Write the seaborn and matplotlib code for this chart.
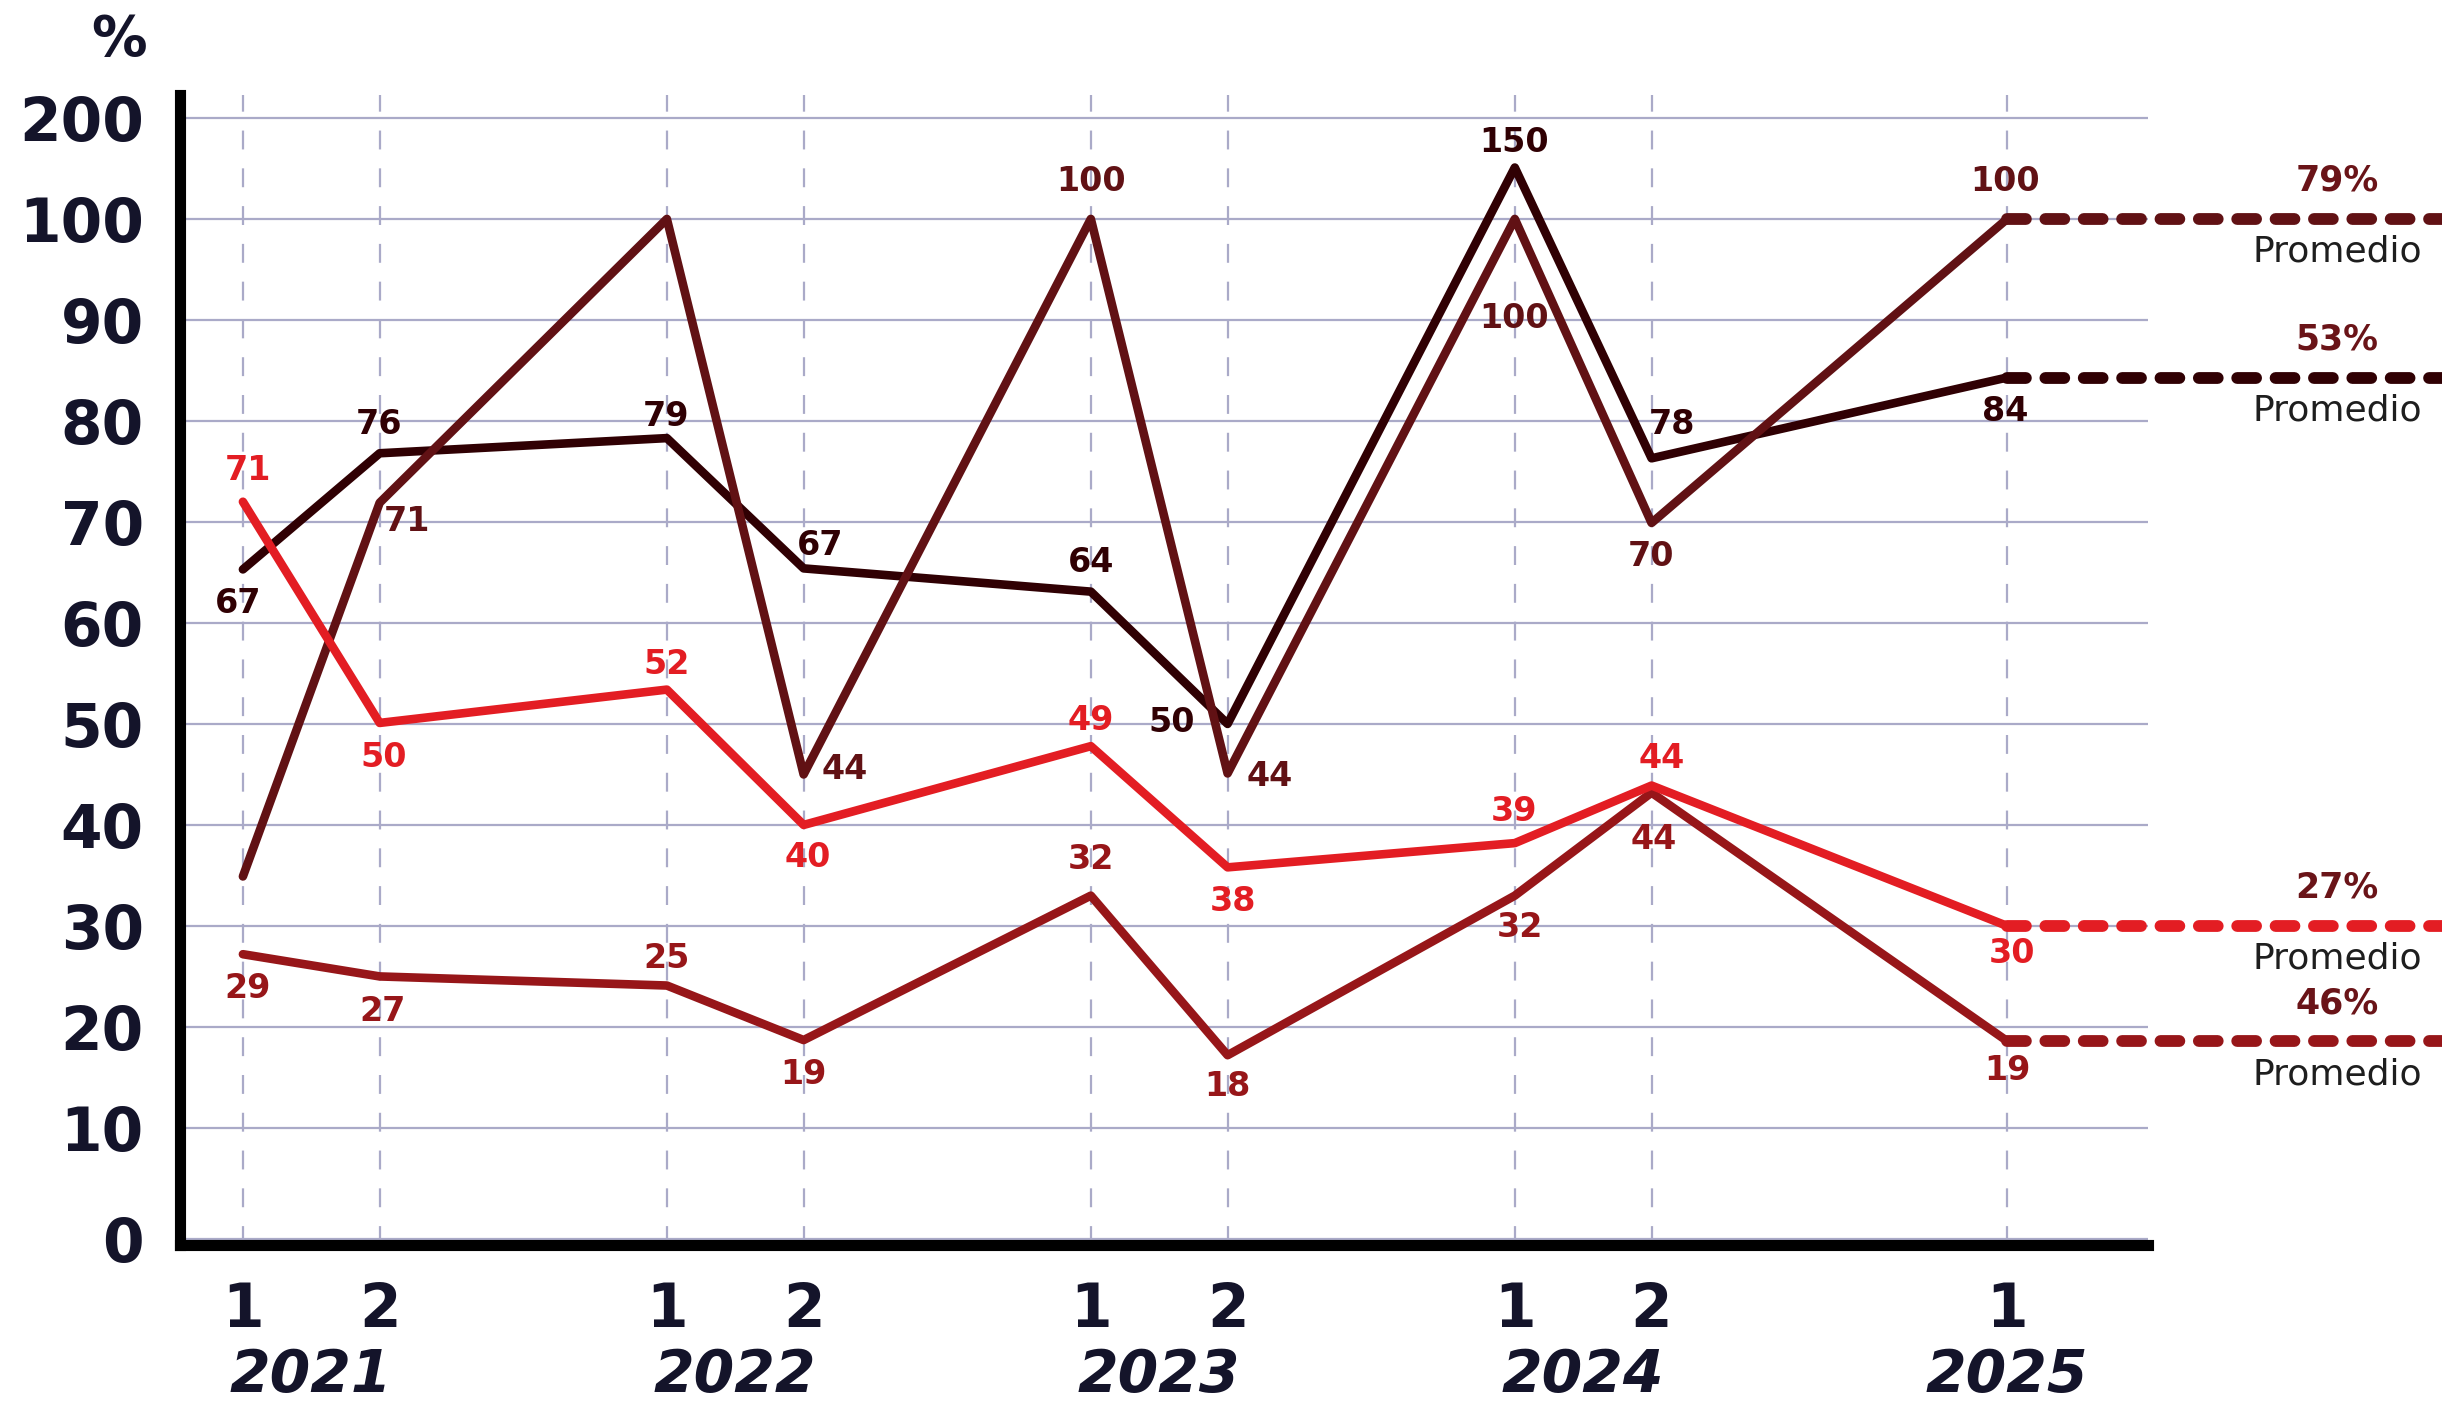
import numpy as np
import pandas as pd
import matplotlib.pyplot as plt
import seaborn as sns

# DATA
x_pos = [0, 1, 3.1, 4.1, 6.2, 7.2, 9.3, 10.3, 12.9]
semesters = ['1', '2', '1', '2', '1', '2', '1', '2', '1']
point_year = ['2021', '2021', '2022', '2022', '2023', '2023', '2024', '2024', '2025']

red_vals = [72.0, 50.1, 53.4, 40.0, 47.8, 35.8, 38.2, 43.9, 30.0]
red_labels = ['71', '50', '52', '40', '49', '38', '39', '44', '30']

darkred_vals = [27.2, 25.0, 24.1, 18.7, 33.0, 17.2, 33.0, 43.2, 18.6]
darkred_labels = ['29', '27', '25', '19', '32', '18', '32', '44', '19']

maroon_vals = [34.9, 71.9, 100, 45.0, 100, 45.1, 100, 69.9, 100]
maroon_labels = ['', '71', '', '44', '100', '44', '100', '70', '100']

black_vals = [65.3, 76.8, 78.3, 65.4, 63.1, 50.0, 150.9, 76.3, 84.3]
black_labels = ['67', '76', '79', '67', '64', '50', '150', '78', '84']

avg_labels = {'maroon': '79%', 'black': '53%', 'red': '27%', 'darkred': '46%'}

y_ticks = [0, 10, 20, 30, 40, 50, 60, 70, 80, 90, 100, 200]

# STYLE
colors = {'red': '#e31d23', 'darkred': '#971619', 'maroon': '#611114', 'black': '#300003'}
avg_color = '#6a1418'
grid_color = '#aaaac8'
ink = '#14142a'

# label offsets in pixels (dx, dy) from each point
offsets = {
    'red': [(5, 31), (4, -35), (0, 25), (4, -33), (0, 26), (5, -34), (-1, 32), (10, 27), (5, -28)],
    'darkred': [(5, -34), (3, -35), (0, 27), (0, -34), (0, 36), (0, -31), (5, -32), (2, -47), (0, -29)],
    'maroon': [(0, 0), (27, -19), (0, 0), (41, 5), (0, 37), (42, -3), (-1, -100), (-1, -34), (-2, 37)],
    'black': [(-5, -34), (-1, 29), (-1, 22), (16, 23), (0, 29), (-56, 1), (-1, 25), (20, 34), (-2, -34)],
}

series = {
    'black': (black_vals, black_labels),
    'maroon': (maroon_vals, maroon_labels),
    'darkred': (darkred_vals, darkred_labels),
    'red': (red_vals, red_labels),
}

rows = []
for name, (vals, labs) in series.items():
    for x, v in zip(x_pos, vals):
        rows.append({'x': x, 'value': v, 'series': name})
df = pd.DataFrame(rows)

# broken y axis: 0-10 a bit taller, 100-200 squeezed into one step
knots_v = [-10, 0, 10, 100, 200, 300]
knots_t = [-11, 0, 11, 101, 111, 121]


def fwd(v):
    return np.interp(np.asarray(v, float), knots_v, knots_t)


def inv(t):
    return np.interp(np.asarray(t, float), knots_t, knots_v)


sns.set_theme(style='white')
plt.rcParams['font.family'] = ['DejaVu Sans']

fig = plt.figure(figsize=(24.42, 14.04), dpi=100)
ax = fig.add_axes([0.07371, 0.11346, 0.80590, 0.81887])
ax.set_yscale('function', functions=(fwd, inv))

for y in y_ticks:
    ax.axhline(y, color=grid_color, lw=1.6, zorder=0)
for x in x_pos:
    ax.axvline(x, color=grid_color, lw=1.6, linestyle=(0, (8.5, 8.5)), zorder=0)

sns.lineplot(data=df, x='x', y='value', hue='series', hue_order=list(series.keys()),
             palette=colors, linewidth=6.2, sort=False, legend=False, ax=ax,
             solid_capstyle='round', solid_joinstyle='round', zorder=3)

ax.set_xlim(-0.46, 13.93)
ax.set_ylim(-0.51, 222.7)

# data labels
for name, (vals, labs) in series.items():
    for x, v, lab, off in zip(x_pos, vals, labs, offsets[name]):
        if not lab:
            continue
        ax.annotate(lab, xy=(x, v), xytext=off, textcoords='offset pixels',
                    ha='center', va='center', fontsize=24, fontweight='bold',
                    color=colors[name], zorder=5)

# dashed average extensions to the figure edge
x_end = ax.transData.inverted().transform(fig.transFigure.transform((1.0, 0.0)))[0]
for name, (vals, labs) in series.items():
    ax.plot([x_pos[-1], x_end], [vals[-1], vals[-1]], color=colors[name], lw=8.5,
            dashes=(1.6, 1.65), dash_capstyle='round', clip_on=False, zorder=4)
    ax.annotate(avg_labels[name], xy=(x_pos[-1], vals[-1]), xytext=(330, 38),
                textcoords='offset pixels', ha='center', va='center',
                fontsize=25, fontweight='bold', color=avg_color, annotation_clip=False)
    ax.annotate('Promedio', xy=(x_pos[-1], vals[-1]), xytext=(330, -33),
                textcoords='offset pixels', ha='center', va='center',
                fontsize=26, color='#1e1e1e', annotation_clip=False)

# axes
ax.set_yticks(y_ticks)
ax.set_yticklabels([str(t) for t in y_ticks])
ax.set_xticks(x_pos)
ax.set_xticklabels(semesters)
ax.tick_params(axis='both', length=0, pad=26, labelsize=43, labelcolor=ink)
for lab in ax.get_xticklabels() + ax.get_yticklabels():
    lab.set_fontweight('bold')
ax.set_xlabel('')
ax.set_ylabel('')

for side in ['top', 'right']:
    ax.spines[side].set_visible(False)
for side in ['left', 'bottom']:
    ax.spines[side].set_linewidth(8)
    ax.spines[side].set_color('black')
    ax.spines[side].set_zorder(6)

# year labels under the semester ticks
year_pos = pd.Series(x_pos).groupby(pd.Series(point_year)).mean()
for yr, xm in year_pos.items():
    ax.annotate(yr, xy=(xm, 0), xycoords=('data', 'axes fraction'), xytext=(0, -131),
                textcoords='offset pixels', ha='center', va='center', fontsize=42,
                fontweight='bold', fontstyle='italic', color=ink, annotation_clip=False)

ax.annotate('%', xy=(0, 1), xycoords='axes fraction', xytext=(-61, 55),
            textcoords='offset pixels', ha='center', va='center', fontsize=40,
            fontweight='bold', color=ink, annotation_clip=False)

fig.savefig('out.png', dpi=100)
